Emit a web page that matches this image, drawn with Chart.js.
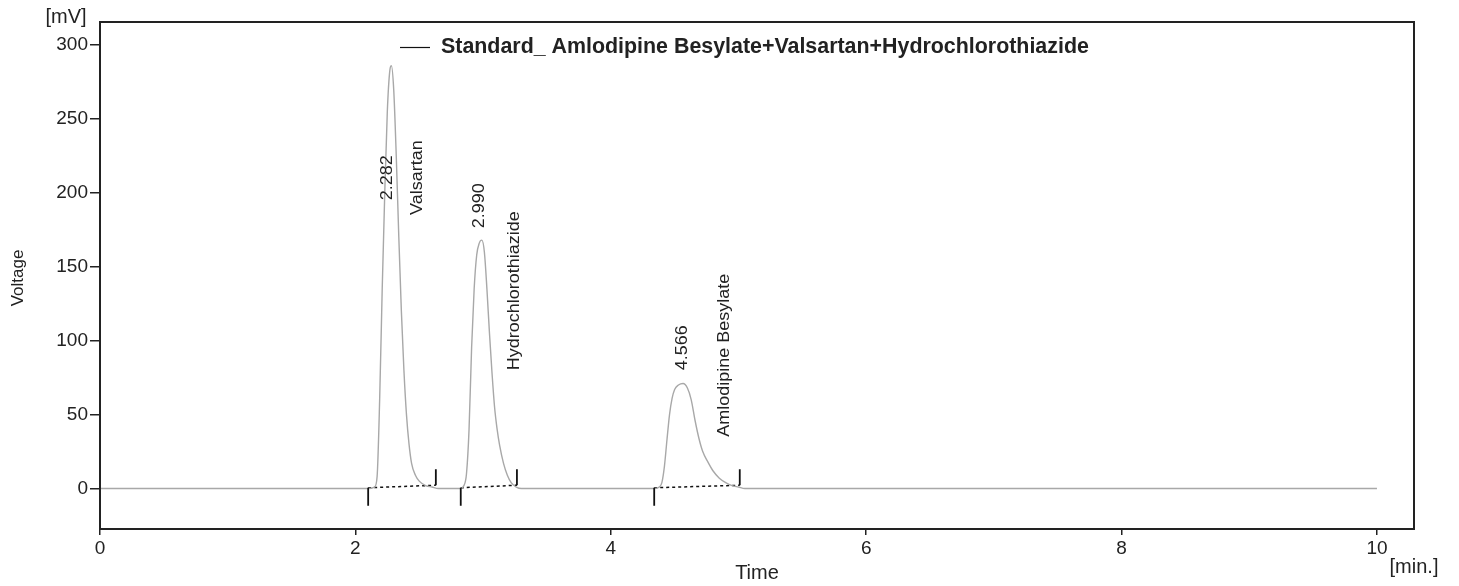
<!DOCTYPE html>
<html>
<head>
<meta charset="utf-8">
<script src="https://cdn.jsdelivr.net/npm/chart.js@4.4.1/dist/chart.umd.min.js"></script>
<style>
  html, body { margin: 0; padding: 0; background: #fff; }
  #wrap { width: 1459px; height: 586px; }
</style>
</head>
<body>
<div id="wrap"><canvas id="chart-chrom"></canvas></div>
<script>
// chromatogram trace (time in min, signal in mV)
var times = [0, 1.0, 2.10, 2.15, 2.17, 2.19, 2.21, 2.23, 2.25, 2.27, 2.282, 2.30, 2.32, 2.34, 2.36, 2.38, 2.40, 2.42, 2.44, 2.47, 2.50, 2.55, 2.60, 2.65,
  2.82, 2.85, 2.87, 2.89, 2.91, 2.93, 2.95, 2.97, 2.99, 3.01, 3.03, 3.05, 3.07, 3.09, 3.11, 3.13, 3.16, 3.19, 3.22, 3.26, 3.30,
  4.34, 4.38, 4.40, 4.42, 4.44, 4.46, 4.48, 4.50, 4.53, 4.566, 4.60, 4.63, 4.66, 4.69, 4.72, 4.76, 4.80, 4.85, 4.90, 4.95, 5.00, 5.05,
  6.0, 7.0, 8.0, 9.0, 10.0];
var volts = [0, 0, 0, 1, 8, 60, 135, 200, 255, 283, 286, 270, 225, 170, 120, 80, 50, 30, 17, 9, 5, 2, 1, 0,
  0, 2, 10, 40, 95, 135, 158, 166, 168, 160, 135, 105, 78, 55, 40, 29, 17, 9, 4, 1, 0,
  0, 1, 4, 15, 33, 50, 61, 67, 70, 71, 68, 60, 46, 34, 25, 18, 12, 7, 4, 2, 1, 0,
  0, 0, 0, 0, 0];

// integration baselines
var peakStart = [2.10, 2.825, 4.34];
var peakEnd = [2.63, 3.265, 5.01];
var baseStartV = [0.5, 0.5, 0.5];
var baseEndV = [2.2, 2.2, 2.2];

var peakRT = ['2.282', '2.990', '4.566'];
var peakNames = ['Valsartan', 'Hydrochlorothiazide', 'Amlodipine Besylate'];

var xTicks = [0, 2, 4, 6, 8, 10];
var yTicks = [0, 50, 100, 150, 200, 250, 300];

var seriesName = 'Standard_ Amlodipine Besylate+Valsartan+Hydrochlorothiazide';

var FONT = '"Liberation Sans", Arial, sans-serif';
var INK = '#222';

// where the peak texts sit (data units, bottom end of the rotated text)
var rtLabelPos = [{x: 2.255, y: 195}, {x: 2.976, y: 176}, {x: 4.565, y: 80}];
var nameLabelPos = [{x: 2.49, y: 185}, {x: 3.25, y: 80}, {x: 4.894, y: 35}];

var datasets = [{
  label: seriesName,
  data: times.map(function (t, i) { return {x: t, y: volts[i]}; }),
  borderColor: '#a8a8a8',
  borderWidth: 1.4,
  pointRadius: 0,
  cubicInterpolationMode: 'monotone',
  fill: false
}];
for (var i = 0; i < peakStart.length; i++) {
  datasets.push({
    label: 'base' + i,
    data: [{x: peakStart[i], y: baseStartV[i]}, {x: peakEnd[i], y: baseEndV[i]}],
    borderColor: '#111',
    borderWidth: 1.5,
    borderDash: [3, 3],
    pointRadius: 0,
    fill: false
  });
}

var decorations = {
  id: 'decorations',
  afterDatasetsDraw: function (chart) {
    var ctx = chart.ctx, xs = chart.scales.x, ys = chart.scales.y, a = chart.chartArea;
    ctx.save();
    // frame
    ctx.strokeStyle = INK;
    ctx.lineWidth = 2;
    ctx.strokeRect(a.left, a.top, a.right - a.left, a.bottom - a.top);

    // peak start / end markers
    ctx.lineWidth = 1.8;
    ctx.strokeStyle = '#111';
    for (var i = 0; i < peakStart.length; i++) {
      var sx = xs.getPixelForValue(peakStart[i]), sy = ys.getPixelForValue(baseStartV[i]);
      ctx.beginPath(); ctx.moveTo(sx, sy); ctx.lineTo(sx, sy + 18); ctx.stroke();
      var ex = xs.getPixelForValue(peakEnd[i]), ey = ys.getPixelForValue(baseEndV[i]);
      ctx.beginPath(); ctx.moveTo(ex, ey); ctx.lineTo(ex, ey - 16); ctx.stroke();
    }

    // rotated peak texts
    ctx.fillStyle = INK;
    ctx.font = '18px ' + FONT;
    ctx.textAlign = 'left';
    ctx.textBaseline = 'middle';
    function vtext(txt, p) {
      ctx.save();
      ctx.translate(xs.getPixelForValue(p.x), ys.getPixelForValue(p.y));
      ctx.rotate(-Math.PI / 2);
      ctx.scale(1, 0.9);
      ctx.fillText(txt, 0, 0);
      ctx.restore();
    }
    for (var j = 0; j < peakRT.length; j++) {
      vtext(peakRT[j], rtLabelPos[j]);
      vtext(peakNames[j], nameLabelPos[j]);
    }

    // legend inside plot
    ctx.strokeStyle = '#111';
    ctx.lineWidth = 1.2;
    ctx.beginPath(); ctx.moveTo(400, 47.5); ctx.lineTo(430, 47.5); ctx.stroke();
    ctx.font = 'bold 16px ' + FONT;
    var w = ctx.measureText(seriesName).width;
    var fs = 16 * 649 / w;
    ctx.font = 'bold ' + fs.toFixed(1) + 'px ' + FONT;
    ctx.textBaseline = 'middle';
    ctx.fillText(seriesName, 441, 47);

    // axis captions
    ctx.font = '20px ' + FONT;
    ctx.textAlign = 'center';
    ctx.fillText('[mV]', 66, 17);
    ctx.fillText('Time', 757, 573);
    ctx.fillText('[min.]', 1414, 567);
    ctx.font = '17px ' + FONT;
    ctx.save();
    ctx.translate(18, 278);
    ctx.rotate(-Math.PI / 2);
    ctx.fillText('Voltage', 0, 0);
    ctx.restore();
    ctx.restore();
  }
};

new Chart(document.getElementById('chart-chrom').getContext('2d'), {
  type: 'line',
  data: { datasets: datasets },
  options: {
    responsive: true,
    maintainAspectRatio: false,
    animation: false,
    layout: { padding: { top: 22, right: 45, left: 0, bottom: 0 } },
    plugins: {
      legend: { display: false },
      tooltip: { enabled: false }
    },
    scales: {
      x: {
        type: 'linear',
        min: 0,
        max: 10.29,
        afterBuildTicks: function (s) { s.ticks = xTicks.map(function (v) { return {value: v}; }); },
        afterFit: function (s) { s.height = 57; },
        border: { display: false },
        grid: { display: true, drawOnChartArea: false, drawTicks: true, tickLength: 6, color: INK, lineWidth: 1.5 },
        ticks: { color: INK, padding: 2, maxRotation: 0, font: { size: 19, family: FONT } }
      },
      y: {
        min: -27.4,
        max: 315.6,
        afterBuildTicks: function (s) { s.ticks = yTicks.map(function (v) { return {value: v}; }); },
        afterFit: function (s) { s.width = 100; },
        border: { display: false },
        grid: { display: true, drawOnChartArea: false, drawTicks: true, tickLength: 10, color: INK, lineWidth: 1.5 },
        ticks: { color: INK, padding: 2, font: { size: 19, family: FONT } }
      }
    }
  },
  plugins: [decorations]
});
</script>
</body>
</html>
